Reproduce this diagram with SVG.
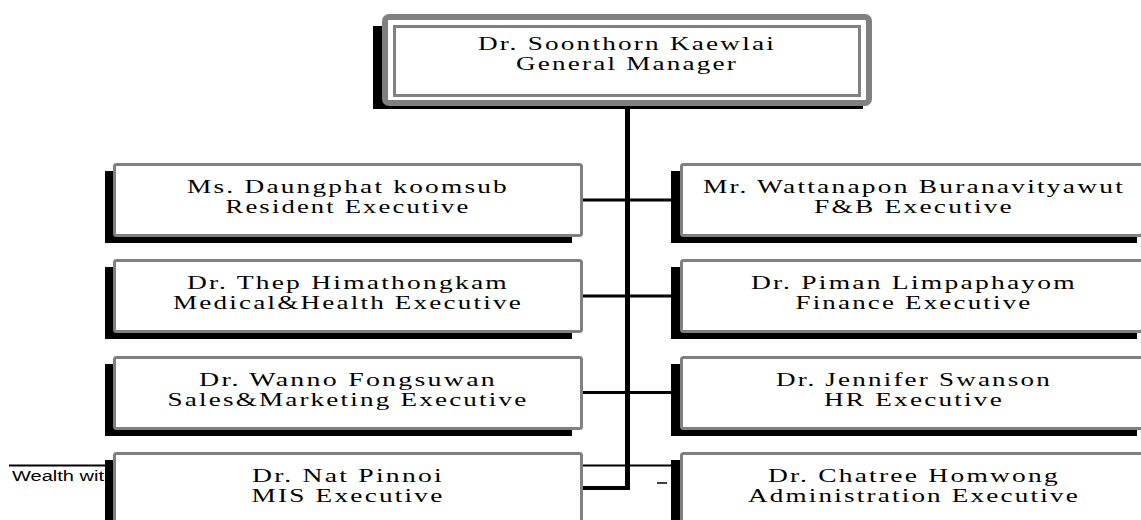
<svg xmlns="http://www.w3.org/2000/svg" width="1141" height="520" viewBox="0 0 1141 520">
<style>
.sh{fill:#000}
.bx{fill:#fff;stroke:#808080;stroke-width:3}
.tx{font-family:"Liberation Serif","Times New Roman",serif;font-size:18.5px;fill:#000;text-anchor:middle;letter-spacing:1.5px}
.ln{stroke:#000;fill:none}
</style>
<rect width="1141" height="520" fill="#fff"/>
<g id="footer">
<line x1="9" y1="465.5" x2="1141" y2="465.5" stroke="#000" stroke-width="2"/>
<text x="12" y="481" font-family="Liberation Sans, Arial, sans-serif" font-size="14" textLength="92" lengthAdjust="spacingAndGlyphs">Wealth wit</text>
</g>
<g id="connectors">
<line class="ln" x1="627.5" y1="104" x2="627.5" y2="490" stroke-width="5"/>
<line class="ln" x1="583" y1="200" x2="672" y2="200" stroke-width="3"/>
<line class="ln" x1="583" y1="296" x2="672" y2="296" stroke-width="3"/>
<line class="ln" x1="583" y1="392.5" x2="672" y2="392.5" stroke-width="3"/>
<line class="ln" x1="583" y1="488" x2="630" y2="488" stroke-width="4"/>
<line class="ln" x1="657" y1="483" x2="667" y2="483" stroke-width="1.5"/>
</g>
<g id="gm">
<rect class="sh" x="373" y="26" width="490" height="83"/>
<rect x="385" y="17" width="484" height="86" rx="4" fill="#fff" stroke="#808080" stroke-width="6"/>
<rect x="394.5" y="26.5" width="465" height="69" fill="none" stroke="#808080" stroke-width="3"/>
<text class="tx" x="627" y="50" textLength="298" lengthAdjust="spacingAndGlyphs">Dr. Soonthorn Kaewlai</text>
<text class="tx" x="627" y="70" textLength="222" lengthAdjust="spacingAndGlyphs">General Manager</text>
</g>
<g id="resident">
<rect class="sh" x="105" y="171" width="467" height="72"/>
<rect class="bx" x="114.5" y="164.5" width="467" height="71" rx="2"/>
<text class="tx" x="348" y="193" textLength="322" lengthAdjust="spacingAndGlyphs">Ms. Daungphat koomsub</text>
<text class="tx" x="348" y="213" textLength="245" lengthAdjust="spacingAndGlyphs">Resident Executive</text>
</g>
<g id="fb">
<rect class="sh" x="671" y="171" width="466" height="72"/>
<rect class="bx" x="681.5" y="164.5" width="466" height="71" rx="2"/>
<text class="tx" x="914" y="193" textLength="422" lengthAdjust="spacingAndGlyphs">Mr. Wattanapon Buranavityawut</text>
<text class="tx" x="914" y="213" textLength="200" lengthAdjust="spacingAndGlyphs">F&amp;B Executive</text>
</g>
<g id="medical">
<rect class="sh" x="105" y="267" width="467" height="72"/>
<rect class="bx" x="114.5" y="260.5" width="467" height="71" rx="2"/>
<text class="tx" x="348" y="289" textLength="322" lengthAdjust="spacingAndGlyphs">Dr. Thep Himathongkam</text>
<text class="tx" x="348" y="309" textLength="350" lengthAdjust="spacingAndGlyphs">Medical&amp;Health Executive</text>
</g>
<g id="finance">
<rect class="sh" x="671" y="267" width="466" height="72"/>
<rect class="bx" x="681.5" y="260.5" width="466" height="71" rx="2"/>
<text class="tx" x="914" y="289" textLength="326" lengthAdjust="spacingAndGlyphs">Dr. Piman Limpaphayom</text>
<text class="tx" x="914" y="309" textLength="237" lengthAdjust="spacingAndGlyphs">Finance Executive</text>
</g>
<g id="sales">
<rect class="sh" x="105" y="364" width="467" height="72"/>
<rect class="bx" x="114.5" y="357.5" width="467" height="71" rx="2"/>
<text class="tx" x="348" y="386" textLength="298" lengthAdjust="spacingAndGlyphs">Dr. Wanno Fongsuwan</text>
<text class="tx" x="348" y="406" textLength="361" lengthAdjust="spacingAndGlyphs">Sales&amp;Marketing Executive</text>
</g>
<g id="hr">
<rect class="sh" x="671" y="364" width="466" height="72"/>
<rect class="bx" x="681.5" y="357.5" width="466" height="71" rx="2"/>
<text class="tx" x="914" y="386" textLength="276" lengthAdjust="spacingAndGlyphs">Dr. Jennifer Swanson</text>
<text class="tx" x="914" y="406" textLength="180" lengthAdjust="spacingAndGlyphs">HR Executive</text>
</g>
<g id="mis">
<rect class="sh" x="105" y="460" width="467" height="72"/>
<rect class="bx" x="114.5" y="453.5" width="467" height="71" rx="2"/>
<text class="tx" x="348" y="482" textLength="192" lengthAdjust="spacingAndGlyphs">Dr. Nat Pinnoi</text>
<text class="tx" x="348" y="502" textLength="193" lengthAdjust="spacingAndGlyphs">MIS Executive</text>
</g>
<g id="admin">
<rect class="sh" x="671" y="460" width="466" height="72"/>
<rect class="bx" x="681.5" y="453.5" width="466" height="71" rx="2"/>
<text class="tx" x="914" y="482" textLength="292" lengthAdjust="spacingAndGlyphs">Dr. Chatree Homwong</text>
<text class="tx" x="914" y="502" textLength="332" lengthAdjust="spacingAndGlyphs">Administration Executive</text>
</g>
</svg>
